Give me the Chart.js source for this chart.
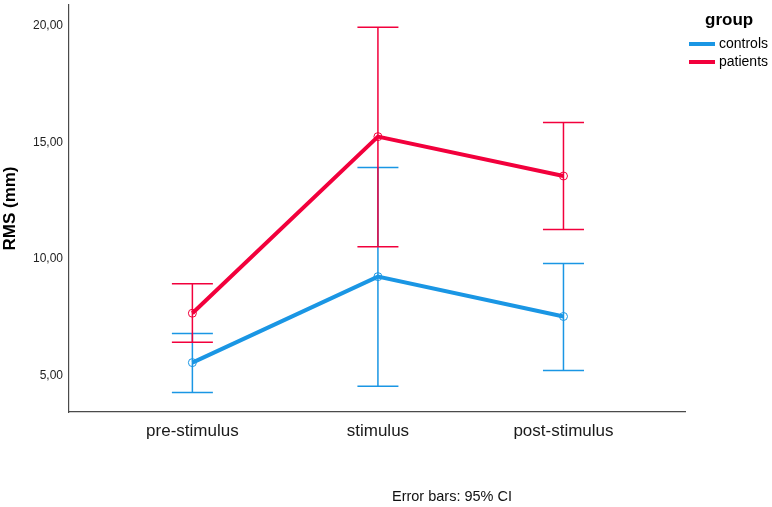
<!DOCTYPE html>
<html>
<head>
<meta charset="utf-8">
<script src="https://cdn.jsdelivr.net/npm/chart.js@4"></script>
<style>
  body { margin: 0; background: #fff; }
  canvas { display: block; }
</style>
</head>
<body>
<canvas id="chart" width="772" height="507"></canvas>
<script>
// valeurs
const categories = ['pre-stimulus', 'stimulus', 'post-stimulus'];
const controlsMean = [5.55, 9.24, 7.53];
const controlsLow = [4.27, 4.53, 5.21];
const controlsHigh = [6.80, 13.93, 9.80];
const patientsMean = [7.67, 15.25, 13.56];
const patientsLow = [6.42, 10.52, 11.26];
const patientsHigh = [8.94, 19.95, 15.86];
const yTicks = [5, 10, 15, 20];

const blue = '#1a96e4';
const red = '#f2003c';
const fontFamily = 'Arial, "Liberation Sans", sans-serif';

Chart.defaults.font.family = fontFamily;

function points(values) {
    return values.map((v, i) => ({ x: i, y: v }));
}

// barres d'erreur (IC 95%) dessinées avec les échelles du graphique
const errorBars = {
    id: 'errorBars',
    beforeDatasetsDraw(chart) {
        const ctx = chart.ctx;
        const xs = chart.scales.x;
        const ys = chart.scales.y;
        chart.data.datasets.forEach(ds => {
            ctx.save();
            ctx.strokeStyle = ds.borderColor;
            ctx.lineWidth = 1.5;
            ds.low.forEach((lo, i) => {
                const x = xs.getPixelForValue(i);
                const y1 = ys.getPixelForValue(lo);
                const y2 = ys.getPixelForValue(ds.high[i]);
                ctx.beginPath();
                ctx.moveTo(x, y1); ctx.lineTo(x, y2);
                ctx.moveTo(x - 20.5, y1); ctx.lineTo(x + 20.5, y1);
                ctx.moveTo(x - 20.5, y2); ctx.lineTo(x + 20.5, y2);
                ctx.stroke();
            });
            ctx.restore();
        });
    },
    afterDraw(chart) {
        const ctx = chart.ctx;
        ctx.save();
        // légende
        ctx.fillStyle = '#000';
        ctx.font = 'bold 17px ' + fontFamily;
        ctx.textAlign = 'left';
        ctx.textBaseline = 'middle';
        ctx.fillText('group', 705, 20);
        ctx.font = '14px ' + fontFamily;
        chart.data.datasets.forEach((ds, i) => {
            const y = 44 + i * 18;
            ctx.strokeStyle = ds.borderColor;
            ctx.lineWidth = 4;
            ctx.beginPath();
            ctx.moveTo(689, y); ctx.lineTo(715, y);
            ctx.stroke();
            ctx.fillStyle = '#000';
            ctx.fillText(ds.label, 719, y);
        });
        // note
        ctx.font = '14.5px ' + fontFamily;
        ctx.textAlign = 'center';
        ctx.fillStyle = '#111';
        ctx.fillText('Error bars: 95% CI', 452, 497);
        ctx.restore();
    }
};

new Chart(document.getElementById('chart'), {
    type: 'line',
    data: {
        datasets: [
            {
                label: 'controls',
                data: points(controlsMean),
                low: controlsLow,
                high: controlsHigh,
                borderColor: blue,
                borderWidth: 4,
                pointRadius: 4,
                pointBorderWidth: 1,
                pointBackgroundColor: 'rgba(0,0,0,0)',
                pointBorderColor: blue
            },
            {
                label: 'patients',
                data: points(patientsMean),
                low: patientsLow,
                high: patientsHigh,
                borderColor: red,
                borderWidth: 4,
                pointRadius: 4,
                pointBorderWidth: 1,
                pointBackgroundColor: 'rgba(0,0,0,0)',
                pointBorderColor: red
            }
        ]
    },
    options: {
        responsive: false,
        animation: false,
        layout: { padding: { top: 2, right: 87, left: 0, bottom: 0 } },
        plugins: {
            legend: { display: false },
            tooltip: { enabled: false }
        },
        scales: {
            x: {
                type: 'linear',
                min: -0.665,
                max: 2.655,
                grid: { display: false, drawTicks: false },
                border: { display: true, color: '#4a4a4a', width: 1.2 },
                afterBuildTicks: s => { s.ticks = categories.map((c, i) => ({ value: i })); },
                afterFit: s => { s.height = 95; s.paddingLeft = 0; s.paddingRight = 0; },
                ticks: {
                    padding: 9,
                    color: '#1a1a1a',
                    font: { size: 17 },
                    maxRotation: 0,
                    autoSkip: false,
                    callback: v => categories[v]
                }
            },
            y: {
                min: 3.43,
                max: 20.9,
                grid: { display: false, drawTicks: false },
                border: { display: true, color: '#4a4a4a', width: 1.2 },
                afterBuildTicks: s => { s.ticks = yTicks.map(v => ({ value: v })); },
                afterFit: s => { s.width = 69; s.paddingTop = 0; s.paddingBottom = 0; },
                ticks: {
                    padding: 6,
                    color: '#222',
                    font: { size: 12 },
                    callback: v => v.toFixed(2).replace('.', ',')
                },
                title: {
                    display: true,
                    text: 'RMS (mm)',
                    color: '#000',
                    font: { size: 17, weight: 'bold' },
                    padding: { top: 0, bottom: 0 }
                }
            }
        }
    },
    plugins: [errorBars]
});
</script>
</body>
</html>
